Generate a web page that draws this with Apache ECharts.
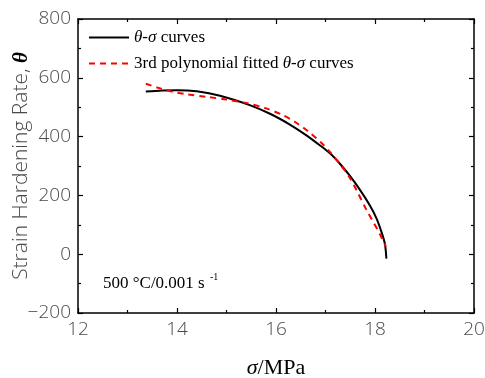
<!DOCTYPE html>
<html>
<head>
<meta charset="utf-8">
<script src="https://cdn.jsdelivr.net/npm/echarts@6/dist/echarts.min.js"></script>
<style>html,body{margin:0;padding:0;background:#fff}#c{width:485px;height:378px}</style>
</head>
<body>
<div id="c"></div>
<script>
// measured θ-σ curve
var curveSigma = [13.37, 13.7, 14.0, 14.4, 14.87, 15.47, 15.9, 16.28, 16.6, 16.89, 17.09, 17.3, 17.49, 17.7, 17.9, 18.03, 18.13, 18.2, 18.23];
var curveTheta = [553, 557, 558, 554, 539, 507, 476, 441, 406, 370, 343, 306, 267, 218, 165, 122, 76, 35, -15];
// 3rd polynomial fit
var fitSigma = [13.37, 13.6, 13.9, 14.2, 14.6, 15.0, 15.4, 15.8, 16.14, 16.4, 16.65, 16.92, 17.09, 17.3, 17.49, 17.65, 17.83, 17.97, 18.1, 18.22];
var fitTheta = [580, 567, 553, 544, 535, 526, 514, 496, 473, 448, 418, 378, 348, 305, 260, 210, 150, 108, 68, 26];
// axes
var xMin = 12, xMax = 20, xStep = 2;
var yMin = -200, yMax = 800, yStep = 200;
var seriesNames = ['θ-σ curves', '3rd polynomial fitted θ-σ curves'];
var annotation = '500 °C/0.001 s';
var annotationSup = '-1';

function pairs(xs, ys) { return xs.map(function (x, i) { return [x, ys[i]]; }); }

var chart = echarts.init(document.getElementById('c'), null, { renderer: 'canvas' });
var tickFont = { color: '#4a4a4a', fontSize: 19, fontFamily: 'Open Sans', fontWeight: 300 };
function axisCommon(pos, showLabel, isX) {
  return {
    type: 'value', position: pos,
    min: isX ? xMin : yMin, max: isX ? xMax : yMax, interval: isX ? xStep : yStep,
    axisLine: { show: true, onZero: false, lineStyle: { color: '#000', width: 1.5 } },
    axisTick: { show: true, inside: true, length: 5, lineStyle: { color: '#000', width: 1.2 } },
    minorTick: { show: true, splitNumber: 2, length: 3, lineStyle: { color: '#000', width: 1.2 } },
    splitLine: { show: false },
    axisLabel: showLabel ? Object.assign({ margin: 7, formatter: function (v) { return String(v).replace('-', '\u2212'); } }, tickFont) : { show: false }
  };
}
var xa0 = axisCommon('bottom', true, true);
xa0.name = '{i|σ}/MPa';
xa0.nameLocation = 'middle';
xa0.nameGap = 44;
xa0.nameMoveOverlap = false;
xa0.nameTextStyle = { color: '#000', fontSize: 22, fontFamily: 'Liberation Serif', rich: { i: { fontStyle: 'italic', fontSize: 22, fontFamily: 'Liberation Serif', color: '#000' } } };
var xa1 = axisCommon('top', false, true);
var ya0 = axisCommon('left', true, false);
ya0.name = 'Strain Hardening Rate, {t|θ}';
ya0.nameLocation = 'middle';
ya0.nameGap = 46;
ya0.nameMoveOverlap = false;
ya0.nameTextStyle = { color: '#4a4a4a', fontSize: 21, fontFamily: 'Open Sans', fontWeight: 300, rich: { t: { fontStyle: 'italic', fontWeight: 'bold', fontSize: 21, fontFamily: 'Liberation Serif', color: '#000' } } };
var ya1 = axisCommon('right', false, false);

chart.setOption({
  animation: false,
  grid: { left: 78, right: 11, top: 19, bottom: 65, containLabel: false, outerBoundsMode: 'none' },
  xAxis: [xa0, xa1],
  yAxis: [ya0, ya1],
  legend: {
    orient: 'vertical', left: 83, top: 24, itemWidth: 40, itemHeight: 12, itemGap: 9,
    data: seriesNames,
    itemStyle: { opacity: 0 },
    formatter: function (n) { return n.replace('θ-σ', '{i|θ-σ}'); },
    textStyle: { color: '#000', fontSize: 17, fontFamily: 'Liberation Serif', rich: { i: { fontStyle: 'italic', fontSize: 17, fontFamily: 'Liberation Serif', color: '#000' } } }
  },
  graphic: [
    { type: 'text', left: 103, top: 275, style: { text: annotation, fill: '#000', font: '17px "Liberation Serif"' } },
    { type: 'text', left: 210, top: 272, style: { text: annotationSup, fill: '#000', font: '10px "Liberation Serif"' } }
  ],
  series: [
    { name: seriesNames[0], type: 'line', data: pairs(curveSigma, curveTheta), smooth: 0.3, showSymbol: false, symbol: 'none',
      lineStyle: { color: '#000', width: 2 }, itemStyle: { color: '#000' } },
    { name: seriesNames[1], type: 'line', data: pairs(fitSigma, fitTheta), smooth: 0.3, showSymbol: false, symbol: 'none',
      lineStyle: { color: '#ff0000', width: 2, type: [6, 5] }, itemStyle: { color: '#ff0000' } }
  ]
});
</script>
</body>
</html>
